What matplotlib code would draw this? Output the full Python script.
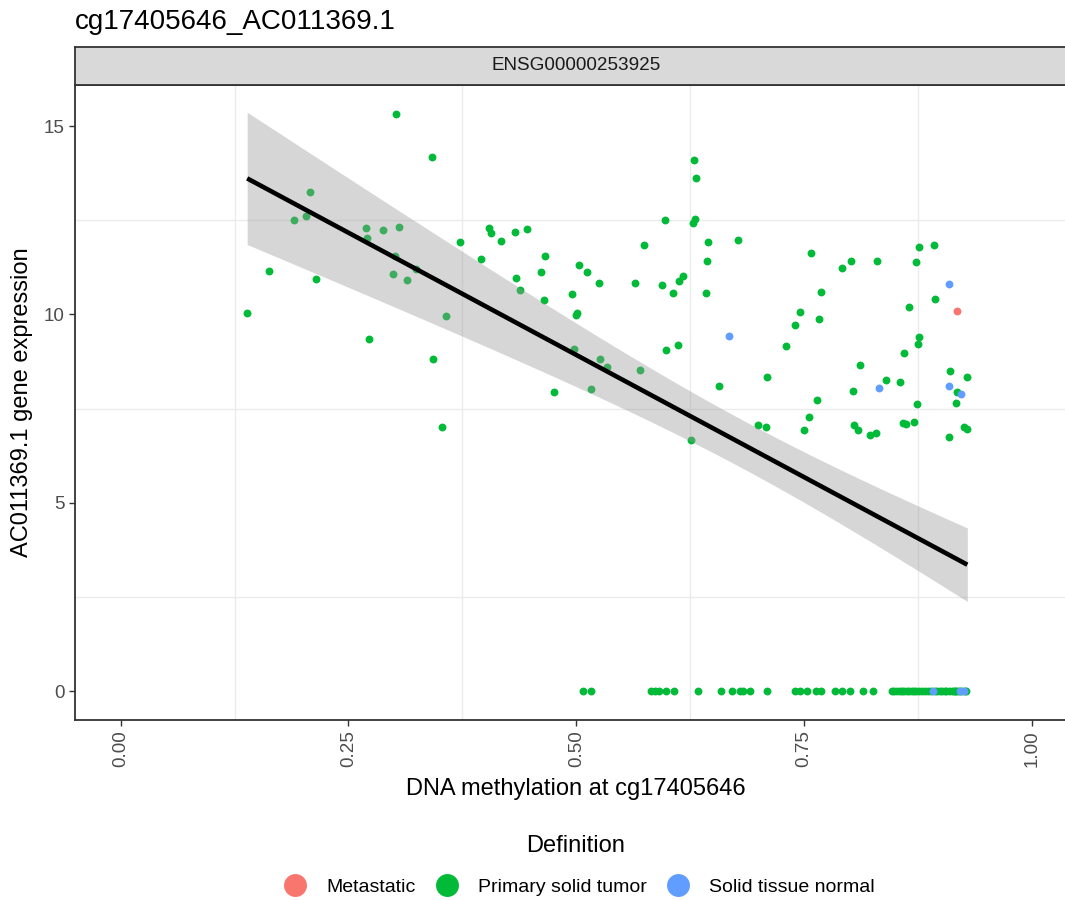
import numpy as np
import matplotlib
matplotlib.use('Agg')
import matplotlib.pyplot as plt
from matplotlib.lines import Line2D

plt.rcParams['font.family'] = ['Liberation Sans', 'DejaVu Sans']

# methylation (beta) and expression per sample, split by sample definition
tumor_meth = [
    0.3026, 0.342, 0.2083, 0.190, 0.2036, 0.2694, 0.2705, 0.288, 0.3056, 0.3728,
    0.395, 0.1627, 0.2142, 0.301, 0.2993, 0.3147, 0.324, 0.1389, 0.357, 0.2723,
    0.3432, 0.3527, 0.4039, 0.4064, 0.4174, 0.4324, 0.4459, 0.4656, 0.4342, 0.4616,
    0.4379, 0.4642, 0.5026, 0.512, 0.5245, 0.4956, 0.5011, 0.4997, 0.5643, 0.5968,
    0.5738, 0.629, 0.6316, 0.6297, 0.6276, 0.644, 0.6429, 0.6425, 0.5936, 0.6064,
    0.6126, 0.6173, 0.5987, 0.6115, 0.4971, 0.526, 0.534, 0.5698, 0.4751, 0.5161,
    0.6261, 0.6568, 0.6773, 0.709, 0.6992, 0.708, 0.757, 0.769, 0.7456, 0.766,
    0.740, 0.7303, 0.7639, 0.7558, 0.750, 0.7917, 0.8015, 0.8304, 0.8114, 0.8037,
    0.8403, 0.8556, 0.8052, 0.8096, 0.822, 0.829, 0.8765, 0.8922, 0.8732, 0.8933,
    0.8648, 0.8757, 0.8754, 0.860, 0.9097, 0.929, 0.9174, 0.917, 0.874, 0.858,
    0.8615, 0.871, 0.925, 0.9287, 0.9093,
]
tumor_expr = [
    15.32, 14.18, 13.26, 12.50, 12.60, 12.30, 12.03, 12.24, 12.33, 11.91,
    11.48, 11.16, 10.95, 11.54, 11.06, 10.91, 11.21, 10.04, 9.95, 9.36,
    8.82, 7.02, 12.29, 12.17, 11.95, 12.18, 12.27, 11.56, 10.98, 11.12,
    10.64, 10.37, 11.32, 11.12, 10.84, 10.54, 10.05, 9.98, 10.84, 12.50,
    11.83, 14.10, 13.63, 12.54, 12.42, 11.92, 11.41, 10.58, 10.78, 10.56,
    10.88, 11.01, 9.05, 9.18, 9.07, 8.82, 8.61, 8.52, 7.94, 8.03,
    6.67, 8.10, 11.98, 8.34, 7.06, 7.00, 11.63, 10.60, 10.07, 9.89,
    9.72, 9.17, 7.72, 7.29, 6.94, 11.22, 11.42, 11.42, 8.65, 7.96,
    8.25, 8.21, 7.06, 6.93, 6.79, 6.85, 11.78, 11.84, 11.38, 10.42,
    10.21, 9.41, 9.22, 8.97, 8.49, 8.34, 7.95, 7.64, 7.62, 7.13,
    7.09, 7.14, 7.01, 6.95, 6.75,
]
# tumour samples with no detected expression (dense run above 0.84 overlaps)
tumor_meth_zero = [
    0.507, 0.516, 0.582, 0.586, 0.591, 0.598, 0.607, 0.634, 0.659, 0.671,
    0.680, 0.683, 0.691, 0.709, 0.740, 0.745, 0.753, 0.763, 0.769, 0.784,
    0.792, 0.800, 0.815, 0.825, 0.846, 0.849, 0.852, 0.855, 0.857, 0.860,
    0.863, 0.865, 0.868, 0.870, 0.873, 0.876, 0.879, 0.883, 0.886, 0.889,
    0.893, 0.896, 0.899, 0.901, 0.904, 0.906, 0.909, 0.912, 0.914, 0.915,
    0.917, 0.919, 0.921, 0.923, 0.926, 0.928,
]
normal_meth = [0.667, 0.8326, 0.9086, 0.9086, 0.922, 0.891, 0.921, 0.925]
normal_expr = [9.43, 8.04, 10.82, 8.09, 7.88, 0.0, 0.0, 0.0]
meta_meth = [0.9174]
meta_expr = [10.09]

groups = ['Metastatic', 'Primary solid tumor', 'Solid tissue normal']
colors = ['#F8766D', '#00BA38', '#619CFF']

title = 'cg17405646_AC011369.1'
strip_label = 'ENSG00000253925'
x_ticks = [0.0, 0.25, 0.5, 0.75, 1.0]
y_ticks = [0, 5, 10, 15]

tx = np.array(tumor_meth + tumor_meth_zero)
ty = np.array(tumor_expr + [0.0] * len(tumor_meth_zero))
series = [
    (np.array(meta_meth), np.array(meta_expr)),
    (tx, ty),
    (np.array(normal_meth), np.array(normal_expr)),
]

W, H = 1065, 900
fig = plt.figure(figsize=(W / 100, H / 100), dpi=100)

# panel geometry in pixels (right edge runs past the canvas)
left, right, top, bottom = 75, 1077.6, 85, 720
ax = fig.add_axes([left / W, 1 - bottom / H, (right - left) / W, (bottom - top) / H])
ax.set_xlim(-0.05, 1.05)
ax.set_ylim(-0.766, 16.09)

for gx in [0.125, 0.375, 0.625, 0.875]:
    ax.axvline(gx, color='#EBEBEB', lw=1.0, zorder=0)
for gy in [2.5, 7.5, 12.5]:
    ax.axhline(gy, color='#EBEBEB', lw=1.0, zorder=0)

# points in sample order: tumour first, then normal, then metastatic
order = [1, 2, 0]
for i in order:
    xs, ys = series[i]
    ax.scatter(xs, ys, s=32, color=colors[i], linewidths=0, zorder=2)

# linear fit with 95% confidence band over all samples
all_x = np.concatenate([s[0] for s in series])
all_y = np.concatenate([s[1] for s in series])
n = all_x.size
slope, intercept = np.polyfit(all_x, all_y, 1)
resid = all_y - (slope * all_x + intercept)
sigma = np.sqrt(np.sum(resid ** 2) / (n - 2))
xbar = all_x.mean()
sxx = np.sum((all_x - xbar) ** 2)
xfit = np.linspace(all_x.min(), all_x.max(), 80)
yfit = slope * xfit + intercept
se = sigma * np.sqrt(1.0 / n + (xfit - xbar) ** 2 / sxx)
tq = 1.972
ax.fill_between(xfit, yfit - tq * se, yfit + tq * se, color='#999999', alpha=0.4,
                linewidth=0, zorder=3)
ax.plot(xfit, yfit, color='black', lw=3.3, zorder=4, solid_capstyle='butt')

ax.set_xticks(x_ticks)
ax.set_xticklabels(['%.2f' % v for v in x_ticks], rotation=90, va='top', ha='center')
ax.set_yticks(y_ticks)
ax.set_yticklabels([str(v) for v in y_ticks])
ax.tick_params(axis='both', colors='#333333', labelcolor='#4D4D4D', labelsize=13.6,
               length=4.3, width=1.0, pad=3)
for sp in ax.spines.values():
    sp.set_color('#333333')
    sp.set_linewidth(1.3)

ax.set_xlabel('DNA methylation at cg17405646', fontsize=17, color='black', labelpad=8)
ax.set_ylabel('AC011369.1 gene expression', fontsize=17, color='black', labelpad=8)

# facet strip
sax = fig.add_axes([left / W, 1 - top / H, (right - left) / W, (top - 47) / H])
sax.set_facecolor('#D9D9D9')
sax.set_xticks([])
sax.set_yticks([])
for sp in sax.spines.values():
    sp.set_color('#333333')
    sp.set_linewidth(1.3)
sax.text(0.5, 0.5, strip_label, transform=sax.transAxes, ha='center', va='center',
         fontsize=13.6, color='#1A1A1A')

fig.text(left / W, 1 - 22 / H, title, ha='left', va='center', fontsize=20, color='black')

# legend: title on its own line, keys in one row below
fig.text(576 / W, 1 - 846 / H, 'Definition', ha='center', va='center', fontsize=17,
         color='black')
handles = [Line2D([], [], marker='o', linestyle='', markersize=16.5, color=c,
                  markeredgewidth=0) for c in colors]
fig.legend(handles, groups, loc='center', bbox_to_anchor=(579 / W, 1 - 887 / H),
           ncol=3, frameon=False, fontsize=14, handletextpad=1.0, columnspacing=1.0,
           handlelength=1.2)

fig.savefig('out.png', dpi=100)
